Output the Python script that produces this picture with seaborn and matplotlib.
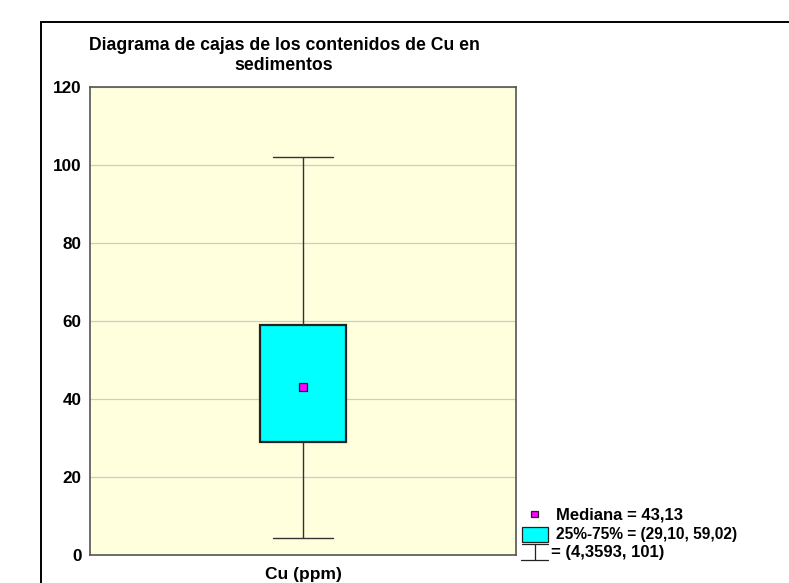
import numpy as np
import pandas as pd
import matplotlib
matplotlib.use("Agg")
import matplotlib.pyplot as plt
import seaborn as sns
from matplotlib.patches import Rectangle
from matplotlib.lines import Line2D

category = "Cu (ppm)"
stat_min = 4.3593
stat_q1 = 29.10
stat_median = 43.13
stat_q3 = 59.02
stat_max = 102.0
y_ticks = [0, 20, 40, 60, 80, 100, 120]
title = "Diagrama de cajas de los contenidos de Cu en\nsedimentos"
legend_median = "Mediana = 43,13"
legend_box = "25%-75% = (29,10, 59,02)"
legend_whisk = "= (4,3593, 101)"

values = [stat_min, stat_q1, stat_median, stat_q3, stat_max]
df = pd.DataFrame({"var": [category] * len(values), "val": values})

sns.set_theme(style="white")
plt.rcParams["font.family"] = ["Liberation Sans", "DejaVu Sans"]
plt.rcParams["font.weight"] = "bold"
plt.rcParams["text.color"] = "black"
plt.rcParams["xtick.color"] = "black"
plt.rcParams["ytick.color"] = "black"

W, H = 789, 583
fig = plt.figure(figsize=(W / 100, H / 100), dpi=100)
fig.patch.set_facecolor("white")
ax = fig.add_axes([90 / W, 1 - 555 / H, 426 / W, 468 / H])
ax.set_facecolor("#FFFFDD")

sns.boxplot(data=df, x="var", y="val", ax=ax, whis=(0, 100), width=0.202,
            color="#00FFFF", saturation=1, linewidth=1.1, linecolor="#222222",
            showfliers=False,
            medianprops=dict(visible=False),
            whiskerprops=dict(color="#333333", linewidth=1.0),
            capprops=dict(color="#333333", linewidth=1.0),
            boxprops=dict(edgecolor="#222222", linewidth=1.6),
            zorder=3)
# cap widths
for ln in ax.lines:
    xd = np.asarray(ln.get_xdata(), dtype=float)
    yd = np.asarray(ln.get_ydata(), dtype=float)
    if len(xd) == 2 and yd[0] == yd[1] and xd[0] != xd[1]:
        c = xd.mean()
        ln.set_xdata([c - 0.07, c + 0.07])

sns.scatterplot(x=[category], y=[stat_median], ax=ax, marker="s", s=30,
                color="#FF00FF", edgecolor="#222222", linewidth=0.9, zorder=5)

ax.set_ylim(0, 120)
ax.set_xlim(-0.5, 0.5)
ax.set_yticks(y_ticks)
ax.set_yticklabels([str(t) for t in y_ticks], fontsize=12.3, fontweight="bold")
ax.set_xticks([0])
ax.set_xticklabels([category], fontsize=12.5, fontweight="bold")
ax.tick_params(axis="y", length=0, pad=6)
ax.tick_params(axis="x", length=0, pad=9)
ax.set_xlabel("")
ax.set_ylabel("")
ax.yaxis.grid(True, color="#CCCCCC", linewidth=0.9, zorder=0)
ax.set_axisbelow(True)
for sp in ax.spines.values():
    sp.set_color("#555555")
    sp.set_linewidth(1.2)

fig.text(284 / W, 1 - 55.5 / H, title, ha="center", va="center", fontsize=12.7,
         fontweight="bold", linespacing=1.27)

# outer chart frame
fig.patches.append(Rectangle((41 / W, -0.1), 1.2, 1.1 - 22 / H,
                             transform=fig.transFigure, fill=False,
                             edgecolor="black", linewidth=1.4))

# legend (manual)
fig.patches.append(Rectangle((531 / W, 1 - 517 / H), 6.5 / W, 6.5 / H,
                             transform=fig.transFigure, facecolor="#FF00FF",
                             edgecolor="#222222", linewidth=0.9))
fig.text(556 / W, 1 - 515 / H, legend_median, ha="left", va="center",
         fontsize=12, fontweight="bold")
fig.patches.append(Rectangle((522 / W, 1 - 542 / H), 26 / W, 15 / H,
                             transform=fig.transFigure, facecolor="#00FFFF",
                             edgecolor="#222222", linewidth=0.9))
fig.text(556 / W, 1 - 534 / H, legend_box, ha="left", va="center",
         fontsize=11.2, fontweight="bold")
for (x0, x1, y0, y1) in [(522, 548, 544, 544), (535, 535, 544, 560), (521, 548, 560, 560)]:
    fig.lines.append(Line2D([x0 / W, x1 / W], [1 - y0 / H, 1 - y1 / H],
                            transform=fig.transFigure, color="#222222", linewidth=0.9))
fig.text(551 / W, 1 - 553 / H, legend_whisk, ha="left", va="center",
         fontsize=12, fontweight="bold")

fig.savefig("out.png", dpi=100)
